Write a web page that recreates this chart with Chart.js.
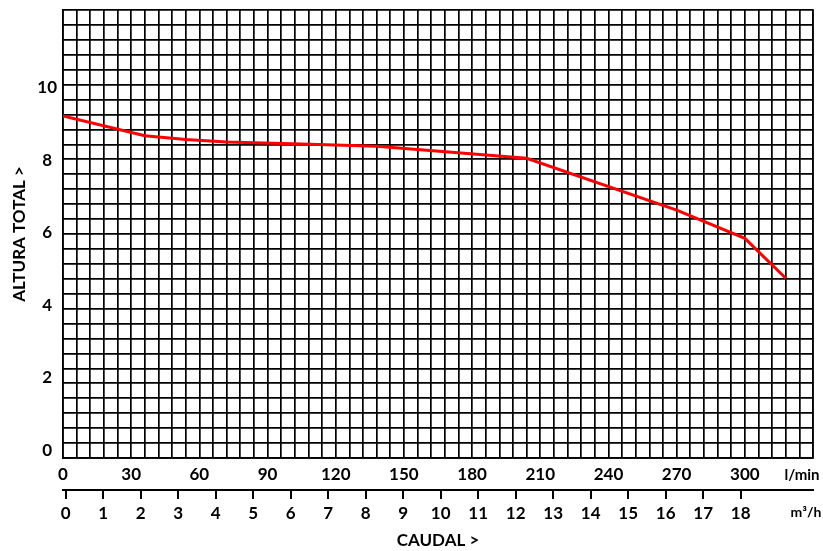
<!DOCTYPE html>
<html>
<head>
<meta charset="utf-8">
<script src="https://cdn.jsdelivr.net/npm/chart.js@4"></script>
<style>
html,body{margin:0;padding:0;background:#fff}
#wrap{width:823px;height:551px}
</style>
</head>
<body>
<div id="wrap"><canvas id="c" width="823" height="551"></canvas></div>
<script>
// ---- data ----
const flowLpm = [0, 36, 54, 72, 105, 138, 204, 270, 300, 318];
const headM   = [9.22, 8.67, 8.57, 8.50, 8.44, 8.38, 8.05, 6.62, 5.84, 4.74];
const lpmTickLabels = [0, 30, 60, 90, 120, 150, 180, 210, 240, 270, 300];
const m3hTickLabels = [0, 1, 2, 3, 4, 5, 6, 7, 8, 9, 10, 11, 12, 13, 14, 15, 16, 17, 18];
const headTickLabels = [0, 2, 4, 6, 8, 10];
const xTitle = 'CAUDAL >';
const yTitle = 'ALTURA TOTAL >';
const unitLpm = 'l/min';
const unitM3h = 'm³/h';

const FAMILY = 'Lato';
const GRID = '#000';
const GW = 1.7;

const unitsPlugin = {
  id: 'units',
  afterDraw(chart) {
    const ctx = chart.ctx;
    const xs = chart.scales.x, x2 = chart.scales.x2;
    ctx.save();
    ctx.fillStyle = '#000';
    ctx.textAlign = 'center';
    ctx.textBaseline = 'middle';
    ctx.font = 'bold 15px ' + FAMILY;
    ctx.fillText(unitLpm, 802, xs.top + 17);
    ctx.font = 'bold 14px ' + FAMILY;
    ctx.fillText(unitM3h, 806, x2.top + 22);
    ctx.restore();
  }
};

const noPad = s => { s.paddingTop = 0; s.paddingBottom = 0; s.paddingLeft = 0; s.paddingRight = 0; };

new Chart(document.getElementById('c'), {
  type: 'line',
  data: {
    datasets: [{
      data: flowLpm.map((x, i) => ({x: x, y: headM[i]})),
      borderColor: '#ff0000',
      borderWidth: 3,
      pointRadius: 0,
      tension: 0,
      fill: false
    }]
  },
  options: {
    responsive: false,
    animation: false,
    devicePixelRatio: 1,
    layout: {padding: {top: 10, right: 10, left: 0, bottom: 0}},
    plugins: {legend: {display: false}, tooltip: {enabled: false}},
    scales: {
      x: {
        type: 'linear', position: 'bottom', min: 0, max: 330,
        grid: {color: GRID, lineWidth: GW, drawTicks: false},
        border: {color: GRID, width: GW},
        ticks: {
          stepSize: 6, maxTicksLimit: 200, autoSkip: false, maxRotation: 0,
          padding: 6, color: '#000', font: {family: FAMILY, size: 17, weight: 'bold'},
          callback: v => lpmTickLabels.includes(v) ? String(v) : ''
        },
        afterFit: s => { s.height = 32; noPad(s); }
      },
      x2: {
        type: 'linear', position: 'bottom', min: -0.072, max: 19.93,
        grid: {display: true, drawOnChartArea: false, drawTicks: true, tickLength: 9, color: GRID, lineWidth: 2},
        border: {display: true, color: GRID, width: 2},
        afterBuildTicks: s => { s.ticks = m3hTickLabels.map(v => ({value: v})); },
        ticks: {
          autoSkip: false, maxRotation: 0, padding: 4, color: '#000',
          font: {family: FAMILY, size: 17, weight: 'bold'},
          callback: v => String(v)
        },
        title: {display: true, text: xTitle, color: '#000', font: {family: FAMILY, size: 17, weight: 'bold'}, padding: {top: 4, bottom: 0}},
        afterFit: s => { s.height = 61; noPad(s); }
      },
      y: {
        type: 'linear', position: 'left', min: -0.22, max: 12.14,
        grid: {display: false, drawTicks: false},
        border: {color: GRID, width: GW},
        afterBuildTicks: s => { s.ticks = headTickLabels.map(v => ({value: v})); },
        ticks: {
          crossAlign: 'center', padding: 6, color: '#000',
          font: {family: FAMILY, size: 17, weight: 'bold'},
          callback: v => String(v)
        },
        title: {display: true, text: yTitle, color: '#000', font: {family: FAMILY, size: 17, weight: 'bold'}, padding: {top: 9, bottom: 0}},
        afterFit: s => { s.width = 63; noPad(s); }
      },
      yGrid: {
        type: 'linear', position: 'right', min: 0, max: 30,
        grid: {color: GRID, lineWidth: GW, drawTicks: false},
        border: {display: true, color: GRID, width: GW},
        ticks: {display: false, stepSize: 1, maxTicksLimit: 200},
        afterFit: s => { s.width = 0; noPad(s); }
      }
    }
  },
  plugins: [unitsPlugin]
});
</script>
</body>
</html>
